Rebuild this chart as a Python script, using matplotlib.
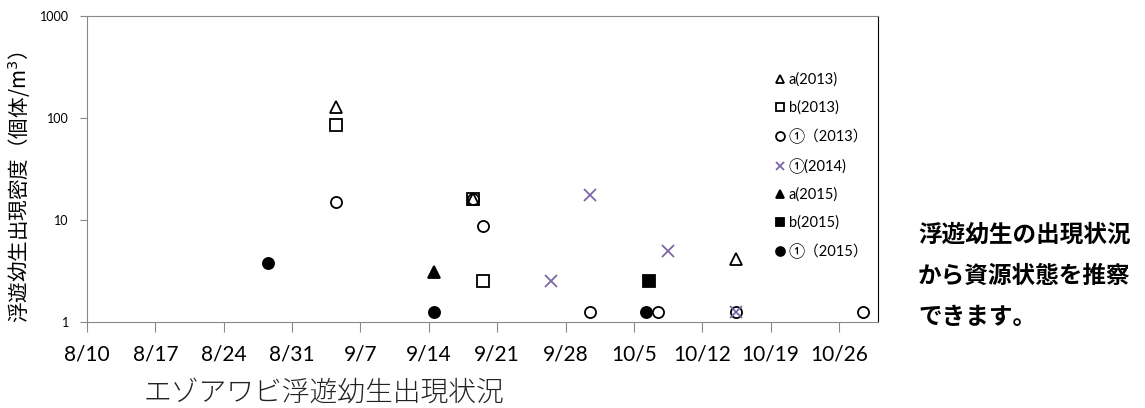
"""
エゾアワビ浮遊幼生出現状況 (scatter, log scale)
"""

import matplotlib.pyplot as plt
import pandas as pd

plt.rcParams['font.family'] = ['Lato', 'Noto Sans CJK JP', 'DejaVu Sans']

# 日付 (正午) と出現密度 (個体/m3)
a2013_dates = ['2015-09-04 12:00', '2015-09-18 12:00', '2015-10-15 12:00']
a2013_vals = [128, 16, 4.1]
b2013_dates = ['2015-09-04 12:00', '2015-09-18 12:00', '2015-09-19 12:00']
b2013_vals = [85, 16, 2.5]
c2013_dates = ['2015-09-04 12:00', '2015-09-18 12:00', '2015-09-19 12:00', '2015-09-30 12:00',
               '2015-10-07 12:00', '2015-10-15 12:00', '2015-10-28 12:00']
c2013_vals = [15, 16, 8.8, 1.25, 1.25, 1.25, 1.25]
c2014_dates = ['2015-09-26 12:00', '2015-09-30 12:00', '2015-10-08 12:00', '2015-10-15 12:00']
c2014_vals = [2.5, 17.5, 5.0, 1.25]
a2015_dates = ['2015-09-14 12:00']
a2015_vals = [3.1]
b2015_dates = ['2015-10-06 12:00']
b2015_vals = [2.5]
c2015_dates = ['2015-08-28 12:00', '2015-09-14 12:00', '2015-10-06 06:00']
c2015_vals = [3.75, 1.25, 1.25]

tick_labels = ['8/10', '8/17', '8/24', '8/31', '9/7', '9/14', '9/21', '9/28',
               '10/5', '10/12', '10/19', '10/26']

series = [
    ('a(2013)', a2013_dates, a2013_vals, '^', 'none', 'black'),
    ('b(2013)', b2013_dates, b2013_vals, 's', 'none', 'black'),
    ('①（2013）', c2013_dates, c2013_vals, 'o', 'none', 'black'),
    ('①(2014)', c2014_dates, c2014_vals, 'x', 'none', '#7B68A6'),
    ('a(2015)', a2015_dates, a2015_vals, '^', 'black', 'black'),
    ('b(2015)', b2015_dates, b2015_vals, 's', 'black', 'black'),
    ('①（2015）', c2015_dates, c2015_vals, 'o', 'black', 'black'),
]

fig = plt.figure(figsize=(11.45, 4.08), dpi=100)
ax = fig.add_axes([0.076, 0.2108, 0.6908, 0.75])

for label, dates, vals, mk, fc, ec in series:
    ax.plot(pd.to_datetime(dates), vals, linestyle='none', marker=mk, ms=8,
            mfc=fc, mec=ec, mew=1.3, color=ec, label=label)

ax.set_yscale('log')
ax.set_ylim(1, 1000)
ax.set_yticks([1, 10, 100, 1000])
ax.set_yticklabels(['1', '10', '100', '1000'], fontsize=9)
ax.yaxis.set_minor_locator(plt.NullLocator())

tick_dates = pd.to_datetime(['2015/' + t for t in tick_labels], format='%Y/%m/%d')
start = tick_dates[0]
ax.set_xlim(start, start + pd.Timedelta(days=81))
ax.set_xticks(tick_dates)
ax.set_xticklabels(tick_labels, fontsize=15)
ax.xaxis.set_minor_locator(plt.NullLocator())

ax.tick_params(axis='x', length=7, color='#888888', pad=9)
ax.tick_params(axis='y', length=5, color='#888888', pad=8)
for side in ['left', 'bottom', 'top']:
    ax.spines[side].set_color('#888888')
ax.spines['right'].set_color('black')

ax.set_ylabel('浮遊幼生出現密度（個体/m$^{3}$）', fontsize=14.8, family=['Noto Sans CJK JP'])
ax.yaxis.set_label_coords(-0.068, 0.44)

ax.legend(loc='upper left', bbox_to_anchor=(0.862, 0.835), frameon=False, fontsize=10.5,
          handlelength=0.7, handletextpad=0.25, labelspacing=0.95, borderaxespad=0,
          markerscale=0.8)

fig.text(0.125, 0.037, 'エゾアワビ浮遊幼生出現状況', fontsize=20, family=['Noto Sans CJK JP'],
         weight='light', color='#222222', va='center')

note_lines = ['浮遊幼生の出現状況', 'から資源状態を推察', 'できます。']
for i, line in enumerate(note_lines):
    fig.text(0.8017, 1 - (235 + 41 * i) / 408, line, fontsize=17, weight='bold',
             family=['Noto Sans CJK JP'], va='center')

plt.savefig('out.png', dpi=100)
plt.close()
